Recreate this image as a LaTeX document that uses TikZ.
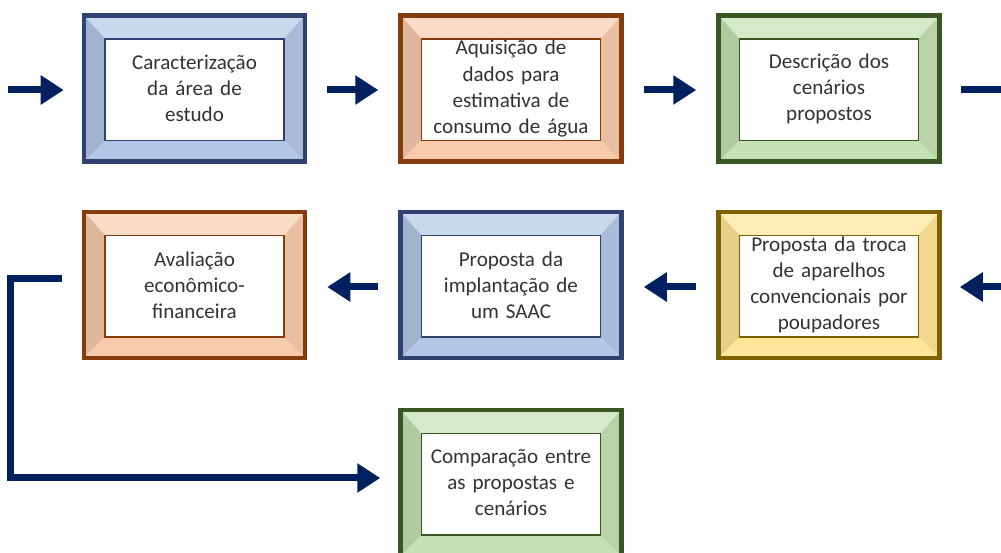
\documentclass[tikz,border=0pt]{standalone}
\usepackage{fontspec}
\setmainfont{Carlito}
\usepackage{tikz}
\usetikzlibrary{positioning,arrows.meta}

\definecolor{arrownavy}{HTML}{002060}
\definecolor{bluefill}{HTML}{B4C7E7}
\definecolor{blueline}{HTML}{2F4270}
\definecolor{orangefill}{HTML}{F8CBAD}
\definecolor{orangeline}{HTML}{843C0C}
\definecolor{greenfill}{HTML}{C5E0B4}
\definecolor{greenline}{HTML}{385723}
\definecolor{yellowfill}{HTML}{FFE699}
\definecolor{yellowline}{HTML}{7F6000}

\begin{document}
\begin{tikzpicture}[font=\fontsize{12}{14.8}\selectfont, text=black!80,
  bevelbox/.style={draw=#1line, fill=#1fill, line width=0.09cm,
    minimum width=4.42cm, minimum height=2.92cm, align=center, text width=3.4cm,
    path picture={
      \path (path picture bounding box.north west) coordinate (pnw)
            (path picture bounding box.north east) coordinate (pne)
            (path picture bounding box.south east) coordinate (pse)
            (path picture bounding box.south west) coordinate (psw)
            ([shift={(0.42,-0.47)}]pnw) coordinate (qnw)
            ([shift={(-0.42,-0.47)}]pne) coordinate (qne)
            ([shift={(-0.42,0.42)}]pse) coordinate (qse)
            ([shift={(0.42,0.42)}]psw) coordinate (qsw);
      \fill[#1fill!70!white] (pnw) -- (pne) -- (qne) -- (qnw) -- cycle;
      \fill[#1fill!90!black] (pnw) -- (qnw) -- (qsw) -- (psw) -- cycle;
      \fill[#1fill!94!black] (pne) -- (qne) -- (qse) -- (pse) -- cycle;
      \fill[#1fill] (psw) -- (qsw) -- (qse) -- (pse) -- cycle;
      \draw[#1line, line width=0.6pt, fill=white] (qnw) rectangle (qse);
    }},
  flow/.style={draw=arrownavy, line width=0.14cm, -{Triangle[length=0.46cm,width=0.56cm]}},
]
  \useasboundingbox (0,0) rectangle (20.02,-11.06);

  % first row
  \node[bevelbox=blue] (carac) at (3.89,-1.77) {Caracterização\\da área de\\estudo};
  \node[bevelbox=orange] (aquis) at (10.22,-1.77) {Aquisição de\\dados para\\estimativa de\\consumo de água};
  \node[bevelbox=green] (descr) at (16.58,-1.77) {Descrição dos\\cenários\\propostos};

  % second row
  \node[bevelbox=yellow] (troca) at (16.58,-5.70) {Proposta da troca\\de aparelhos\\convencionais por\\poupadores};
  \node[bevelbox=blue] (saac) at (10.22,-5.70) {Proposta da\\implantação de\\um SAAC};
  \node[bevelbox=orange] (aval) at (3.89,-5.70) {Avaliação\\econômico-\\financeira};

  % third row
  \node[bevelbox=green] (compar) at (10.22,-9.66) {Comparação entre\\as propostas e\\cenários};

  \coordinate (start) at (0.16,-1.8);
  \coordinate (outtop) at (20.1,-1.8);
  \coordinate (inmid) at (20.1,-5.74);

  \draw[flow, shorten >=0.36cm] (start) -- (start -| carac.west);
  \draw[flow, shorten <=0.4cm, shorten >=0.4cm] (carac.east |- start) -- (aquis.west |- start);
  \draw[flow, shorten <=0.4cm, shorten >=0.4cm] (aquis.east |- start) -- (descr.west |- start);
  \draw[flow, -, shorten <=0.38cm] (descr.east |- outtop) -- (outtop);

  \draw[flow, shorten >=0.36cm] (inmid) -- (inmid -| troca.east);
  \draw[flow, shorten <=0.4cm, shorten >=0.4cm] (troca.west |- inmid) -- (saac.east |- inmid);
  \draw[flow, shorten <=0.4cm, shorten >=0.4cm] (saac.west |- inmid) -- (aval.east |- inmid);

  \draw[flow, shorten <=0.4cm, shorten >=0.36cm] ([yshift=0.12cm]aval.west) -- ++(-1.43,0) |- ([yshift=0.1cm]compar.west);
\end{tikzpicture}
\end{document}
